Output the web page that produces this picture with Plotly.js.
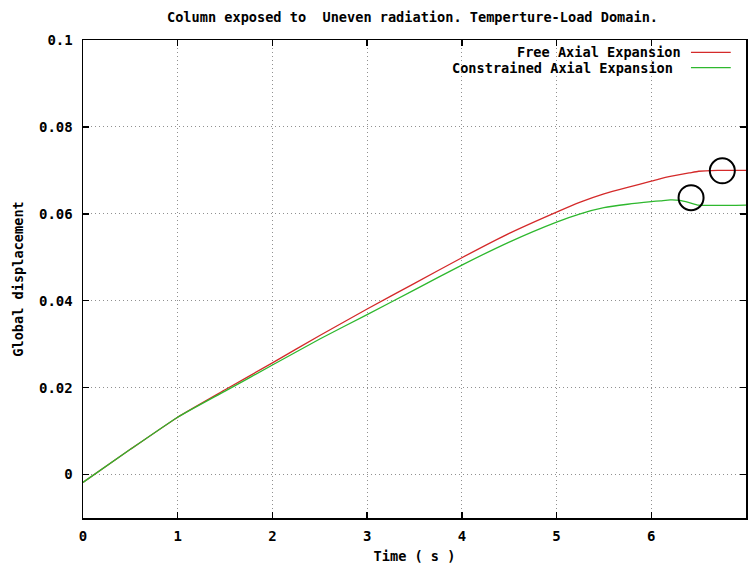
<!DOCTYPE html>
<html>
<head>
<meta charset="utf-8">
<script src="https://cdn.plot.ly/plotly-3.0.1.min.js"></script>
<style>html,body{margin:0;padding:0;background:#fff;}#chart{width:748px;height:565px;}</style>
</head>
<body>
<div id="chart"></div>
<script>
const timeFree = [0, 0.5, 1, 1.5, 2, 2.5, 3, 3.5, 4, 4.5, 5, 5.25, 5.5, 5.75, 6, 6.1, 6.2, 6.4, 6.5, 6.7, 7];
const freeAxial = [-0.0018, 0.0058, 0.0132, 0.0195, 0.0257, 0.0320, 0.0381, 0.0440, 0.0499, 0.0555, 0.0604, 0.0627, 0.0646, 0.0661, 0.0675, 0.0681, 0.0686, 0.0694, 0.0698, 0.0700, 0.0700];
const timeConstrained = [0, 0.5, 1, 1.5, 2, 2.5, 3, 3.5, 4, 4.5, 5, 5.25, 5.5, 5.75, 6, 6.1, 6.2, 6.3, 6.4, 6.5, 7];
const constrainedAxial = [-0.0018, 0.0058, 0.0132, 0.0192, 0.0252, 0.0312, 0.0368, 0.0425, 0.0482, 0.0535, 0.0581, 0.0600, 0.0614, 0.0622, 0.0628, 0.0630, 0.0632, 0.0631, 0.0626, 0.0620, 0.0620];
const circleTimes = [6.75, 6.42];
const circleValues = [0.0699, 0.0637];
const legendLabels = ["Free Axial Expansion", "Constrained Axial Expansion"];
const xTicks = [0, 1, 2, 3, 4, 5, 6, 7];
const yTicks = [0, 0.02, 0.04, 0.06, 0.08, 0.1];
const yTickText = ["0", "0.02", "0.04", "0.06", "0.08", "0.1"];

const RED = '#d42a2a', GREEN = '#2eb82e';
const FONT = {family: 'DejaVu Sans Mono, Liberation Mono, monospace', size: 13.6, color: '#000', weight: 'bold'};
const TICKFONT = Object.assign({}, FONT, {size: 14});

const traces = [
  {x: timeFree, y: freeAxial, mode: 'lines', name: legendLabels[0], line: {color: RED, width: 1.3, shape: 'spline', smoothing: 0.5}, showlegend: false},
  {x: timeConstrained, y: constrainedAxial, mode: 'lines', name: legendLabels[1], line: {color: GREEN, width: 1.3, shape: 'spline', smoothing: 0.5}, showlegend: false},
  {x: circleTimes, y: circleValues, mode: 'markers', showlegend: false,
   marker: {symbol: 'circle-open', size: 25, color: '#000', line: {width: 2, color: '#000'}}}
];

const axisCommon = {
  showline: true, linecolor: '#000', linewidth: 1.5, mirror: 'allticks',
  ticks: 'inside', ticklen: 6, tickcolor: '#000', tickwidth: 1.5,
  showgrid: true, gridcolor: '#909090', griddash: '1px,3px', gridwidth: 1,
  zeroline: false, tickfont: TICKFONT
};

const layout = {
  width: 748, height: 565,
  margin: {l: 83, r: 2, t: 40, b: 47},
  paper_bgcolor: '#fff', plot_bgcolor: '#fff',
  font: FONT,
  title: {text: 'Column exposed to  Uneven radiation. Temperture-Load Domain.', font: FONT, x: 0.497, xanchor: 'center', y: 0.97, yanchor: 'middle', xref: 'paper'},
  xaxis: Object.assign({}, axisCommon, {range: [0, 7], tickvals: xTicks, ticktext: xTicks.map(String), ticklabelstandoff: 5,
    title: {text: 'Time ( s )', font: FONT, standoff: 8}}),
  yaxis: Object.assign({}, axisCommon, {range: [-0.01, 0.1], tickvals: yTicks, ticktext: yTickText, ticklabelstandoff: 6,
    title: {text: 'Global displacement', font: FONT, standoff: 12}}),
  annotations: [
    {xref: 'paper', yref: 'paper', x: 0.905, y: 0.974, xanchor: 'right', yanchor: 'middle', text: legendLabels[0], showarrow: false, font: FONT},
    {xref: 'paper', yref: 'paper', x: 0.893, y: 0.942, xanchor: 'right', yanchor: 'middle', text: legendLabels[1], showarrow: false, font: FONT}
  ],
  shapes: [
    {type: 'line', xref: 'paper', yref: 'paper', x0: 0.917, x1: 0.977, y0: 0.974, y1: 0.974, line: {color: RED, width: 1.3}},
    {type: 'line', xref: 'paper', yref: 'paper', x0: 0.917, x1: 0.977, y0: 0.942, y1: 0.942, line: {color: GREEN, width: 1.3}}
  ]
};

Plotly.newPlot('chart', traces, layout, {staticPlot: true, displayModeBar: false});
</script>
</body>
</html>
